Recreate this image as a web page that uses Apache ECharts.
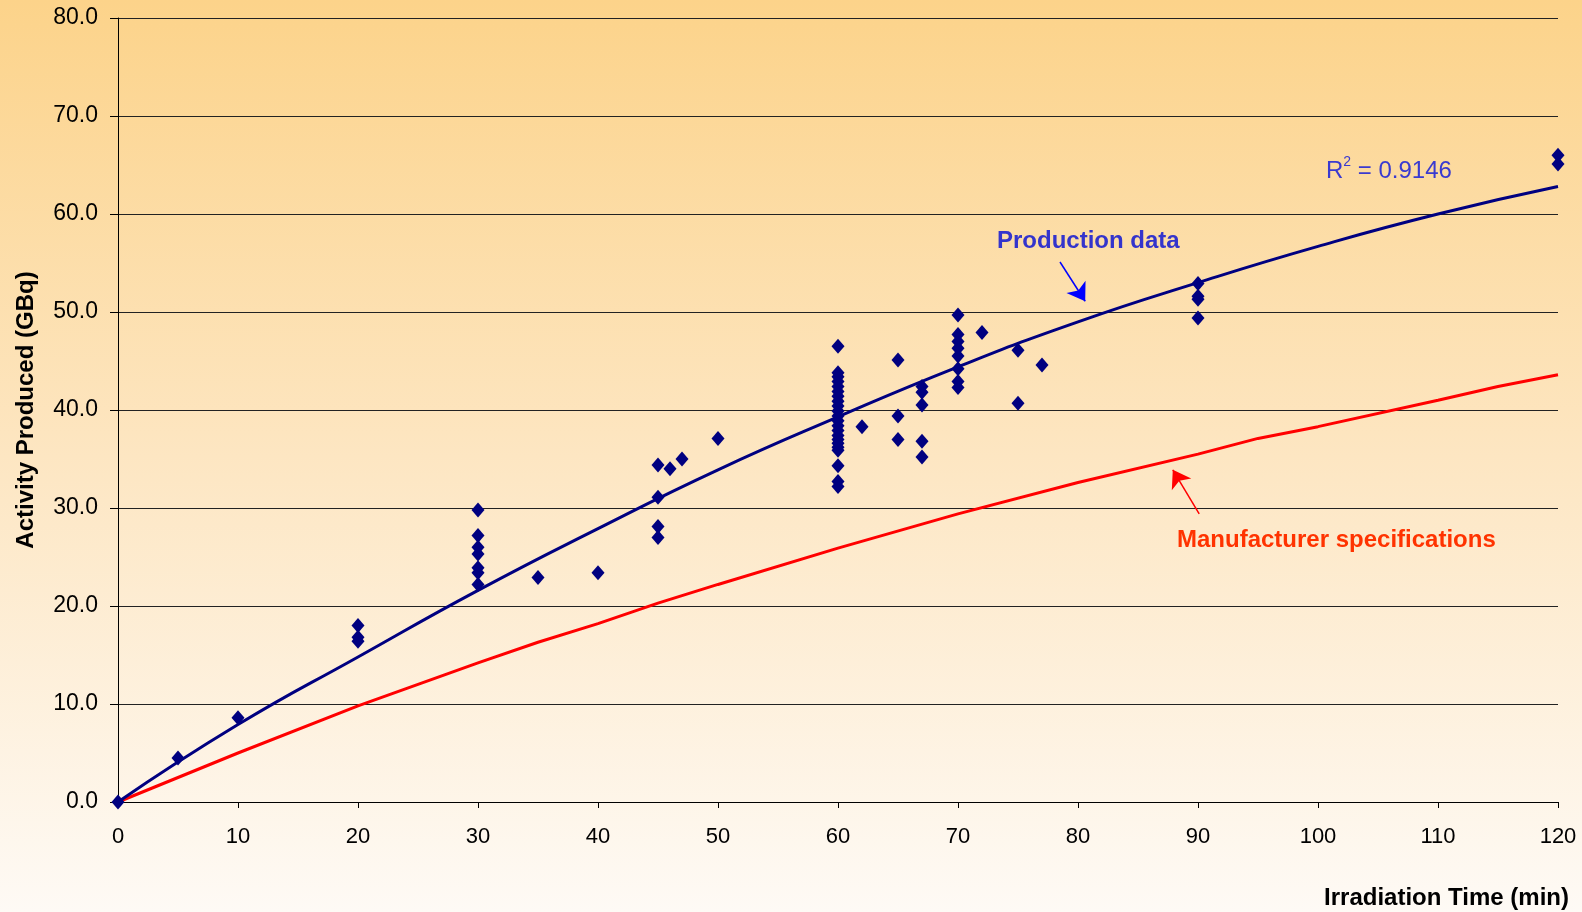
<!DOCTYPE html>
<html>
<head>
<meta charset="utf-8">
<script src="https://cdn.jsdelivr.net/npm/echarts@6/dist/echarts.min.js"></script>
<style>
  html, body { margin: 0; padding: 0; }
  #chart {
    width: 1582px;
    height: 912px;
    background: linear-gradient(#fcd38a 0%, #fde6c2 50%, #fefaf5 100%);
  }
</style>
</head>
<body>
<div id="chart"></div>
<script>
// measured production runs
const runTime = [
  0, 5, 10, 20, 20, 20,
  30, 30, 30, 30, 30, 30, 30,
  35, 40, 45, 45, 45, 45, 46, 47, 50,
  60, 60, 60, 60, 60, 60, 60, 60, 60, 60, 60, 60, 60, 60, 60, 60, 60, 60, 60, 60, 60, 60,
  62, 65, 65, 65, 67, 67, 67, 67, 67,
  70, 70, 70, 70, 70, 70, 70, 70,
  72, 75, 75, 77, 90, 90, 90, 90, 120, 120
];
const runActivity = [
  0, 4.5, 8.6, 18.0, 16.8, 16.4,
  29.8, 27.2, 26.0, 25.3, 23.9, 23.4, 22.2,
  22.9, 23.4, 34.4, 31.1, 28.1, 27.0, 34.0, 35.0, 37.1,
  46.5, 43.8, 43.4, 42.9, 42.4, 41.9, 41.4, 40.9, 40.4, 39.9, 39.4, 38.9, 38.4, 37.9, 37.4, 37.0, 36.6, 36.2, 35.9, 34.3, 32.7, 32.2,
  38.3, 45.1, 39.4, 37.0, 42.4, 41.8, 40.5, 36.8, 35.2,
  49.7, 47.7, 47.0, 46.3, 45.5, 44.2, 42.9, 42.3,
  47.9, 46.1, 40.7, 44.6, 52.9, 51.6, 51.3, 49.4, 66.0, 65.1
];

// fitted trend line
const trendTime = [0, 10, 20, 30, 40, 50, 60, 70, 80, 90, 100, 110, 120];
const trendActivity = [0, 7.9, 14.8, 21.6, 27.9, 33.9, 39.3, 44.4, 49.0, 53.0, 56.7, 60.0, 62.8];

// manufacturer specification curve
const specTime = [0, 10, 20, 30, 35, 40, 45, 50, 60, 70, 80, 90, 95, 100, 110, 115, 120];
const specActivity = [0, 5.0, 9.8, 14.2, 16.3, 18.2, 20.3, 22.2, 25.9, 29.4, 32.6, 35.5, 37.1, 38.3, 41.0, 42.4, 43.6];

const xTicks = [0, 120, 10];
const yTicks = [0, 80, 10];

function pairs(xs, ys) {
  return xs.map((x, i) => [x, ys[i]]);
}

const FONT = "Arial, 'Liberation Sans', sans-serif";
const chart = echarts.init(document.getElementById("chart"));

const option = {
  backgroundColor: "transparent",
  animation: false,
  textStyle: { fontFamily: FONT },
  grid: { left: 118, right: 24, top: 18, bottom: 110 },
  xAxis: {
    type: "value",
    min: xTicks[0],
    max: xTicks[1],
    interval: xTicks[2],
    axisLine: { lineStyle: { color: "#000", width: 1 } },
    axisTick: { show: true, inside: false, length: 6, lineStyle: { color: "#000" } },
    axisLabel: { color: "#000", fontSize: 22, margin: 24, fontFamily: FONT },
    splitLine: { show: false }
  },
  yAxis: {
    type: "value",
    min: yTicks[0],
    max: yTicks[1],
    interval: yTicks[2],
    name: "Activity Produced (GBq)",
    nameLocation: "middle",
    nameRotate: 90,
    nameGap: 80,
    nameTextStyle: { color: "#000", fontSize: 24, fontWeight: "bold", fontFamily: FONT },
    axisLine: { show: true, lineStyle: { color: "#000", width: 1 } },
    axisTick: { show: true, inside: false, length: 8, lineStyle: { color: "#000" } },
    axisLabel: {
      color: "#000",
      fontSize: 23,
      margin: 20,
      fontFamily: FONT,
      formatter: (v) => v.toFixed(1)
    },
    splitLine: { show: true, lineStyle: { color: "#222", width: 1 } }
  },
  series: [
    {
      name: "Manufacturer specifications",
      type: "line",
      data: pairs(specTime, specActivity),
      showSymbol: false,
      smooth: false,
      lineStyle: { color: "#ff0000", width: 3 },
      z: 2,
      markLine: {
        silent: true,
        symbol: ["none", "arrow"],
        symbolSize: 17,
        label: { show: false },
        lineStyle: { color: "#ff0000", width: 1.5, type: "solid" },
        data: [[{ coord: [90.1, 29.4] }, { coord: [87.9, 33.9] }]]
      }
    },
    {
      name: "Trend",
      type: "line",
      data: pairs(trendTime, trendActivity),
      showSymbol: false,
      smooth: true,
      lineStyle: { color: "#000080", width: 3 },
      z: 3,
      markLine: {
        silent: true,
        symbol: ["none", "arrow"],
        symbolSize: 17,
        label: { show: false },
        lineStyle: { color: "#0000ff", width: 1.5, type: "solid" },
        data: [[{ coord: [78.5, 55.1] }, { coord: [80.6, 51.1] }]]
      }
    },
    {
      name: "Production data",
      type: "scatter",
      data: pairs(runTime, runActivity),
      symbol: "diamond",
      symbolSize: [13, 15],
      itemStyle: { color: "#000080", opacity: 1 },
      z: 4
    }
  ],
  graphic: [
    {
      type: "text",
      left: 997,
      top: 229,
      style: {
        text: "Production data",
        fill: "#3434cc",
        font: "bold 24px " + FONT
      }
    },
    {
      type: "text",
      left: 1326,
      top: 155,
      style: {
        text: "{r|R}{s|2}{r| = 0.9146}",
        rich: {
          r: { fill: "#3a3ad0", fontSize: 24, fontFamily: FONT, verticalAlign: "bottom", lineHeight: 28 },
          s: { fill: "#3a3ad0", fontSize: 14, fontFamily: FONT, verticalAlign: "top", lineHeight: 28 }
        }
      }
    },
    {
      type: "text",
      left: 1177,
      top: 528,
      style: {
        text: "Manufacturer specifications",
        fill: "#ff3300",
        font: "bold 24px " + FONT
      }
    },
    {
      type: "text",
      right: 13,
      top: 886,
      style: {
        text: "Irradiation Time (min)",
        fill: "#000",
        font: "bold 24px " + FONT
      }
    }
  ]
};

chart.setOption(option);
</script>
</body>
</html>
